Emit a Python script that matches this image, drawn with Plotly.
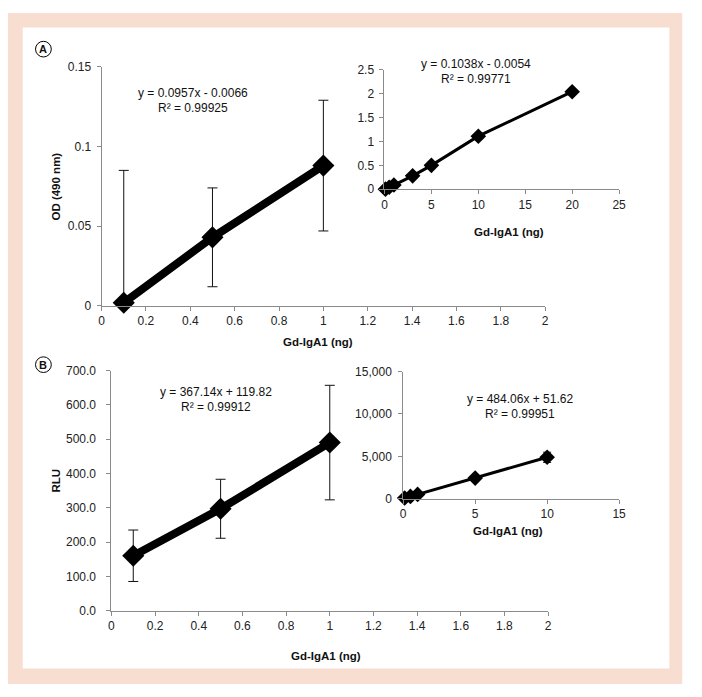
import plotly.graph_objects as go

W, H = 702, 697

# ---------------- data ----------------
a_main_x = [0.1, 0.5, 1.0]
a_main_y = [0.002, 0.043, 0.088]
a_main_err = [0.083, 0.031, 0.041]

a_ins_x = [0.1, 0.5, 1, 3, 5, 10, 20]
a_ins_y = [0.002, 0.043, 0.088, 0.28, 0.50, 1.11, 2.04]
a_ins_err = [0.0, 0.0, 0.0, 0.01, 0.02, 0.06, 0.04]

b_main_x = [0.1, 0.5, 1.0]
b_main_y = [160, 297, 490]
b_main_err = [75, 86, 167]

b_ins_x = [0.1, 0.5, 1, 5, 10]
b_ins_y = [100, 297, 530, 2450, 4900]
b_ins_err = [20, 40, 60, 150, 600]

eq_a_main = ["y = 0.0957x - 0.0066", "R² = 0.99925"]
eq_a_ins = ["y = 0.1038x - 0.0054", "R² = 0.99771"]
eq_b_main = ["y = 367.14x + 119.82", "R² = 0.99912"]
eq_b_ins = ["y = 484.06x + 51.62", "R² = 0.99951"]

x_title = "Gd-IgA1 (ng)"
ya_title = "OD (490 nm)"
yb_title = "RLU"

FONT = "Liberation Sans, Arial, Helvetica, sans-serif"
AXC = "#8a8a8a"

def px(x):
    return x / W

def py(y):
    return 1 - y / H

fig = go.Figure()

def add_series(x, y, err, xa, ya, lw, ms, ew, show_err=True):
    fig.add_trace(go.Scatter(
        x=x, y=y, xaxis=xa, yaxis=ya, mode="lines+markers",
        line=dict(color="black", width=lw),
        marker=dict(symbol="diamond", size=ms, color="black"),
        error_y=dict(type="data", array=err, visible=show_err,
                     color="#111111", thickness=1, width=ew),
        cliponaxis=False, showlegend=False, hoverinfo="skip"))

add_series(a_main_x, a_main_y, a_main_err, "x", "y", 8, 17, 5)
add_series(a_ins_x, a_ins_y, a_ins_err, "x2", "y2", 3, 12, 4)
add_series(b_main_x, b_main_y, b_main_err, "x3", "y3", 8, 17, 5)
add_series(b_ins_x, b_ins_y, b_ins_err, "x4", "y4", 3, 12, 4)

def axis(domain, rng, dtick, anchor, fmt=None, standoff=0):
    d = dict(domain=domain, range=rng, dtick=dtick, tick0=0, anchor=anchor,
             showgrid=False, zeroline=False, showline=True, linecolor=AXC,
             linewidth=1, ticks="outside", ticklen=4, tickcolor=AXC,
             tickfont=dict(family=FONT, size=12, color="#222222"),
             fixedrange=True)
    if standoff:
        d["ticklabelstandoff"] = standoff
    if fmt:
        d["tickformat"] = fmt
    return d

layout = dict(
    width=W, height=H, margin=dict(l=0, r=0, t=0, b=0),
    paper_bgcolor="white", plot_bgcolor="rgba(0,0,0,0)",
    xaxis=axis([px(100), px(550)], [0, 2], 0.2, "y"),
    yaxis=axis([py(305), py(61)], [0, 0.15], 0.05, "x", None, 3),
    xaxis2=axis([px(387), px(625)], [0, 25], 5, "y2"),
    yaxis2=axis([py(186), py(64)], [0, 2.5], 0.5, "x2", None, 3),
    xaxis3=axis([px(110), px(553)], [0, 2], 0.2, "y3"),
    yaxis3=axis([py(616), py(371)], [0, 700], 100, "x3", ".1f", 8),
    xaxis4=axis([px(406), px(625)], [0, 15], 5, "y4"),
    yaxis4=axis([py(502), py(372)], [0, 15000], 5000, "x4", ",d", 4),
)
fig.update_layout(**layout)

shapes = [
    dict(type="rect", xref="paper", yref="paper", x0=px(5), x1=px(689),
         y0=py(691), y1=py(6), fillcolor="#F7DED1", line=dict(width=0), layer="below"),
    dict(type="rect", xref="paper", yref="paper", x0=px(20), x1=px(676),
         y0=py(675), y1=py(21), fillcolor="white", line=dict(width=0), layer="below"),
]
for cy in (43, 365):
    shapes.append(dict(type="circle", xref="paper", yref="paper",
                       x0=px(41 - 8), x1=px(41 + 8), y0=py(cy + 8), y1=py(cy - 8),
                       line=dict(color="black", width=1), fillcolor="white"))
fig.update_layout(shapes=shapes)

ann = []

def text(x, y, s, size=12, bold=False, angle=0):
    ann.append(dict(xref="paper", yref="paper", x=px(x), y=py(y), text=(f"<b>{s}</b>" if bold else s),
                    showarrow=False, xanchor="center", yanchor="middle", textangle=angle,
                    font=dict(family=FONT, size=size, color="#111111")))

text(193, 88, eq_a_main[0]); text(193, 103, eq_a_main[1])
text(480, 58, eq_a_ins[0]); text(480, 73, eq_a_ins[1])
text(216, 393, eq_b_main[0]); text(216, 408, eq_b_main[1])
text(524, 400, eq_b_ins[0]); text(524, 415, eq_b_ins[1])

text(320, 342, x_title, 11.5, True)
text(513, 230, x_title, 11.5, True)
text(328, 662, x_title, 11.5, True)
text(512, 535, x_title, 11.5, True)
text(54, 183, ya_title, 11.5, True, -90)
text(54, 483, yb_title, 11.5, True, -90)

text(41, 43, "A", 11, True)
text(41, 365, "B", 11, True)

fig.update_layout(annotations=ann)

fig.write_html("out.html", config={"displayModeBar": False},
               post_script="document.body.style.margin='0px';document.body.style.overflow='hidden';")
